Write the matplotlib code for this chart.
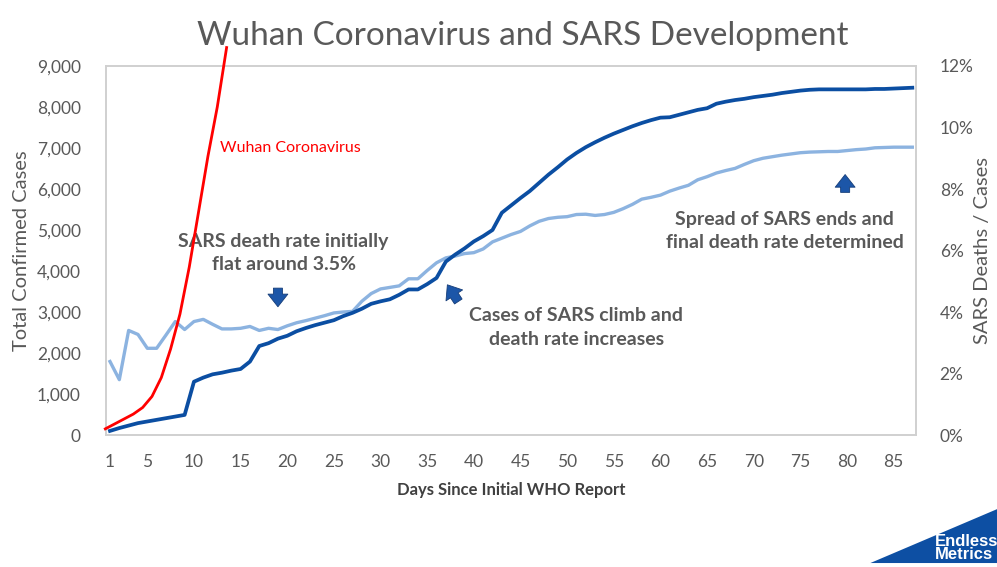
import matplotlib.pyplot as plt
from matplotlib.patches import Polygon
from matplotlib.ticker import FuncFormatter
import numpy as np

# SARS total cases by day since first WHO report
days = np.arange(1, 88)
sars_cases = [100, 170, 230, 290, 330, 370, 410, 450, 490, 1300,
              1400, 1480, 1520, 1570, 1610, 1790, 2170, 2240, 2350, 2420,
              2530, 2610, 2680, 2740, 2800, 2900, 2980, 3080, 3200, 3260,
              3310, 3420, 3550, 3550, 3680, 3830, 4230, 4400, 4550, 4720,
              4850, 5000, 5420, 5600, 5780, 5950, 6150, 6350, 6530, 6720,
              6880, 7020, 7140, 7250, 7350, 7440, 7530, 7610, 7680, 7740,
              7750, 7810, 7870, 7930, 7970, 8080, 8130, 8170, 8200, 8240,
              8270, 8300, 8340, 8370, 8400, 8420, 8430, 8430, 8430, 8430,
              8430, 8430, 8440, 8440, 8450, 8460, 8470]

# SARS deaths / cases, percent
sars_rate = [2.39, 1.80, 3.40, 3.27, 2.82, 2.82, 3.25, 3.69, 3.43, 3.69,
             3.76, 3.60, 3.45, 3.45, 3.47, 3.53, 3.40, 3.47, 3.43, 3.55,
             3.65, 3.72, 3.80, 3.88, 3.97, 4.00, 4.02, 4.35, 4.60, 4.75,
             4.80, 4.85, 5.08, 5.08, 5.35, 5.60, 5.76, 5.82, 5.90, 5.93,
             6.05, 6.28, 6.40, 6.52, 6.62, 6.80, 6.95, 7.04, 7.08, 7.10,
             7.17, 7.18, 7.14, 7.17, 7.24, 7.36, 7.50, 7.67, 7.73, 7.80,
             7.93, 8.03, 8.12, 8.30, 8.40, 8.52, 8.60, 8.67, 8.80, 8.92,
             9.00, 9.05, 9.10, 9.14, 9.18, 9.20, 9.21, 9.22, 9.22, 9.25,
             9.28, 9.30, 9.34, 9.35, 9.36, 9.36, 9.36]

# Wuhan coronavirus confirmed cases
wuhan_days = np.arange(1, 15)
wuhan_cases = [150, 270, 390, 510, 670, 940, 1400, 2100, 2950, 4100,
               5450, 6800, 8000, 9450]

xticks = [1, 5, 10, 15, 20, 25, 30, 35, 40, 45, 50, 55, 60, 65, 70, 75, 80, 85]

plt.rcParams['font.family'] = ['Lato', 'DejaVu Sans']
gray = '#595959'
dark_blue = '#0b4ea2'
light_blue = '#8cb3e0'
arrow_blue = '#1c56a8'

fig = plt.figure(figsize=(9.97, 5.67), dpi=100)
ax = fig.add_axes([0.1063, 0.2328, 0.8125, 0.6508])
ax2 = ax.twinx()

ax.plot(days, sars_cases, color=dark_blue, linewidth=2.7, zorder=3)
ax2.plot(days, sars_rate, color=light_blue, linewidth=2.4, zorder=2)
ax.plot(wuhan_days - 0.5, wuhan_cases, color='#ff0000', linewidth=2.0,
        clip_on=False, zorder=4)
ax.set_zorder(ax2.get_zorder() + 1)
ax.patch.set_visible(False)

ax.set_xlim(0.57, 87.4)
ax.set_ylim(0, 9000)
ax2.set_ylim(0, 12)
ax.set_xticks(xticks)
ax.set_yticks(range(0, 9001, 1000))
ax2.set_yticks(range(0, 13, 2))
ax.yaxis.set_major_formatter(FuncFormatter(lambda v, p: f'{int(v):,}'))
ax2.yaxis.set_major_formatter(FuncFormatter(lambda v, p: f'{int(v)}%'))

for a in (ax, ax2):
    a.tick_params(length=0, labelsize=12.5, labelcolor=gray)
    for s in a.spines.values():
        s.set_color('#d0d0d0')
        s.set_linewidth(1.2)
ax.tick_params(axis='y', pad=18)
ax.tick_params(axis='x', pad=14)
ax2.tick_params(axis='y', pad=17)

ax.set_ylabel('Total Confirmed Cases', fontsize=14.5, color=gray)
ax.yaxis.set_label_coords(-0.094, 0.5)
ax2.set_ylabel('SARS Deaths / Cases', fontsize=14.5, color=gray)
ax2.yaxis.set_label_coords(1.071, 0.5)
ax.set_xlabel('Days Since Initial WHO Report', fontsize=12, color='#404040',
              fontweight='bold', labelpad=8)

fig.text(0.524, 0.936, 'Wuhan Coronavirus and SARS Development', fontsize=24,
         color=gray, ha='center', va='center')

ax.text(12.8, 7010, 'Wuhan Coronavirus', color='#ff0000', fontsize=11.5,
        va='center')
note = dict(ha='center', va='center', fontsize=14, fontweight='bold',
            color=gray, linespacing=1.45)
ax.text(19.6, 4440, 'SARS death rate initially\nflat around 3.5%', **note)
ax.text(51.0, 2620, 'Cases of SARS climb and\ndeath rate increases', **note)
ax.text(73.3, 4975, 'Spread of SARS ends and\nfinal death rate determined',
        **note)

arrow = dict(arrowstyle='simple,head_length=0.7,head_width=1.1,tail_width=0.5',
             fc=arrow_blue, ec='#163d78', lw=0.6, mutation_scale=13)
ax.annotate('', xy=(19.0, 3060), xytext=(19.0, 3650), arrowprops=arrow)
ax.annotate('', xy=(37.0, 3720), xytext=(38.5, 3200), arrowprops=arrow)
ax.annotate('', xy=(79.8, 6420), xytext=(79.8, 5850), arrowprops=arrow)

# logo in the lower right corner
fig.patches.append(Polygon([[0.873, 0.007], [1.0, 0.102], [1.0, 0.007]],
                           closed=True, transform=fig.transFigure,
                           fc='#0d4fa3', ec='none'))
fig.text(0.938, 0.034, 'Endless\nMetrics', color='white', fontsize=12,
         fontweight='bold', family='Liberation Sans', va='center',
         linespacing=0.85)

fig.savefig('out.png', dpi=100, facecolor='white')
